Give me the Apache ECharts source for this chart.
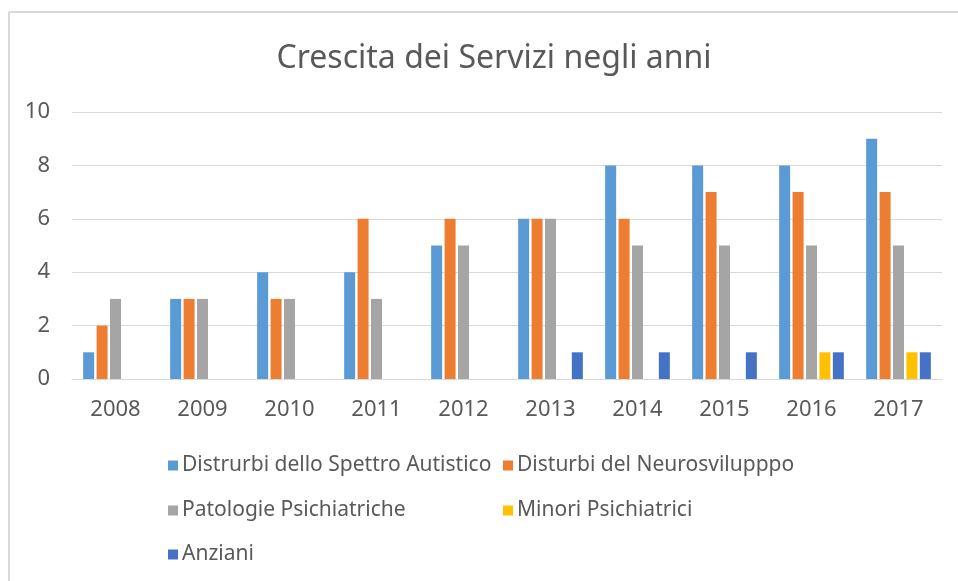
<!DOCTYPE html>
<html>
<head>
<meta charset="utf-8">
<style>
  html, body { margin: 0; padding: 0; background: #fff; }
  #chart { width: 958px; height: 581px; }
</style>
<script src="https://cdn.jsdelivr.net/npm/echarts@6/dist/echarts.min.js"></script>
</head>
<body>
<div id="chart"></div>
<script>
var years = ['2008', '2009', '2010', '2011', '2012', '2013', '2014', '2015', '2016', '2017']
var autistico = [1, 3, 4, 4, 5, 6, 8, 8, 8, 9]
var neurosviluppo = [2, 3, 3, 6, 6, 6, 6, 7, 7, 7]
var psichiatriche = [3, 3, 3, 3, 5, 6, 5, 5, 5, 5]
var minori = [0, 0, 0, 0, 0, 0, 0, 0, 1, 1]
var anziani = [0, 0, 0, 0, 0, 1, 1, 1, 1, 1]

var names = [
  'Distrurbi dello Spettro Autistico',
  'Disturbi del Neurosvilupppo',
  'Patologie Psichiatriche',
  'Minori Psichiatrici',
  'Anziani'
]
var colors = ['#5B9BD5', '#ED7D31', '#A5A5A5', '#FFC000', '#4472C4']
var values = [autistico, neurosviluppo, psichiatriche, minori, anziani]

var font = 'Noto Sans'
var textColor = '#595959'

// legend slots, like the excel layout (two columns, three rows)
var legendPos = [[163, 450], [498, 450], [163, 495], [498, 495], [163, 539]]

var chart = echarts.init(document.getElementById('chart'))

chart.setOption({
  backgroundColor: '#fff',
  animation: false,
  color: colors,
  title: {
    text: 'Crescita dei Servizi negli anni',
    left: 489,
    textAlign: 'center',
    top: 38,
    textStyle: {
      fontFamily: font,
      fontSize: 32,
      fontWeight: 'normal',
      color: textColor
    }
  },
  graphic: [
    { type: 'line', shape: { x1: 9, y1: 12, x2: 958, y2: 12 }, style: { stroke: '#D9D9D9', lineWidth: 2 } },
    { type: 'line', shape: { x1: 9, y1: 12, x2: 9, y2: 581 }, style: { stroke: '#D9D9D9', lineWidth: 2 } }
  ],
  legend: names.map(function(n, i) {
    return {
      data: [n],
      left: legendPos[i][0],
      top: legendPos[i][1],
      icon: 'rect',
      itemWidth: 10,
      itemHeight: 10,
      itemGap: 6,
      selectedMode: false,
      textStyle: {
        fontFamily: font,
        fontSize: 21,
        color: textColor,
        padding: [0, 0, 0, -1]
      }
    }
  }),
  grid: {
    left: 72,
    right: 16,
    top: 112,
    bottom: 202,
    containLabel: false
  },
  xAxis: {
    type: 'category',
    data: years,
    axisLine: { lineStyle: { color: '#D9D9D9', width: 1 } },
    axisTick: { show: false },
    axisLabel: {
      margin: 20,
      fontFamily: font,
      fontSize: 22,
      color: textColor
    }
  },
  yAxis: {
    type: 'value',
    min: 0,
    max: 10,
    interval: 2,
    axisLine: { show: false },
    axisTick: { show: false },
    splitLine: { lineStyle: { color: '#D9D9D9', width: 1 } },
    axisLabel: {
      margin: 22,
      fontFamily: font,
      fontSize: 22,
      color: textColor
    }
  },
  series: names.map(function(n, i) {
    return {
      name: n,
      type: 'bar',
      data: values[i],
      barWidth: 11,
      barGap: '22%',
      itemStyle: { color: colors[i] }
    }
  })
})
</script>
</body>
</html>
